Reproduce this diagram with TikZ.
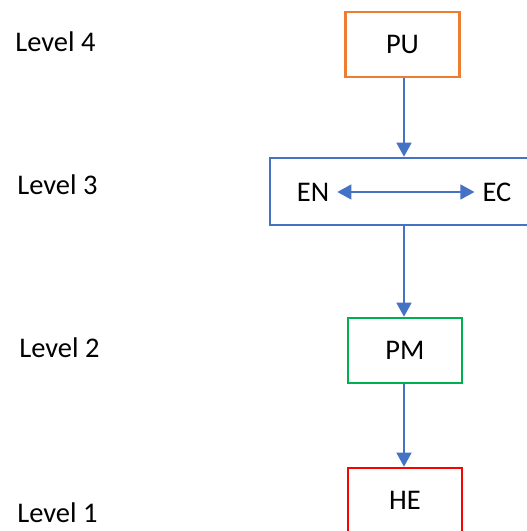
\documentclass[tikz,border=0pt]{standalone}
\usepackage{fontspec}
\setmainfont{Carlito}
\usepackage{tikz}
\usetikzlibrary{arrows.meta,positioning}
\usepackage{xcolor}

\definecolor{puorange}{HTML}{ED7D31}
\definecolor{lvlblue}{HTML}{4472C4}
\definecolor{pmgreen}{HTML}{00B050}
\definecolor{hered}{HTML}{FF0000}

\tikzset{
    box/.style={draw, line width=1.5pt, minimum width=2.28cm, minimum height=1.3cm, inner sep=0pt},
    lvl/.style={anchor=west, inner sep=0pt},
    link/.style={draw=lvlblue, line width=0.8pt, -{Triangle[length=0.28cm,width=0.3cm]}, color=lvlblue}
}

\begin{document}
\begin{tikzpicture}[font=\fontsize{16.2}{19}\selectfont]
        \useasboundingbox (0, 0) rectangle (10.54, 10.62);

        % Levels
        \node[lvl] (l4) at (0.30, 9.78) {Level 4};
        \node[lvl] (l3) at (0.34, 6.92) {Level 3};
        \node[lvl] (l2) at (0.38, 3.66) {Level 2};
        \node[lvl] (l1) at (0.34, 0.36) {Level 1};

        % Boxes
        \node[box, draw=puorange] (pu) at (8.05, 9.73) {PU};
        \node[box, draw=lvlblue, minimum width=5.5cm, minimum height=1.34cm] (mid) at (8.15, 6.79) {};
        \node[box, draw=pmgreen] (pm) at (8.10, 3.61) {PM};
        \node[box, draw=hered] (he) at (8.10, 0.61) {HE};

        % Inside the level 3 box
        \node (en) at (6.26, 6.78) {EN};
        \node (ec) at (9.94, 6.78) {EC};
        \draw[link, {Triangle[length=0.28cm,width=0.3cm]}-{Triangle[length=0.28cm,width=0.3cm]}, shorten <=0.04cm, shorten >=0.04cm] (en) -- (ec);

        % Arrows between levels
        \draw[link] (pu.south -| 8.08, 0) -- (mid.north -| 8.08, 0);
        \draw[link] (mid.south -| 8.08, 0) -- (pm.north -| 8.08, 0);
        \draw[link] (pm.south -| 8.08, 0) -- (he.north -| 8.08, 0);

    \end{tikzpicture}
\end{document}
